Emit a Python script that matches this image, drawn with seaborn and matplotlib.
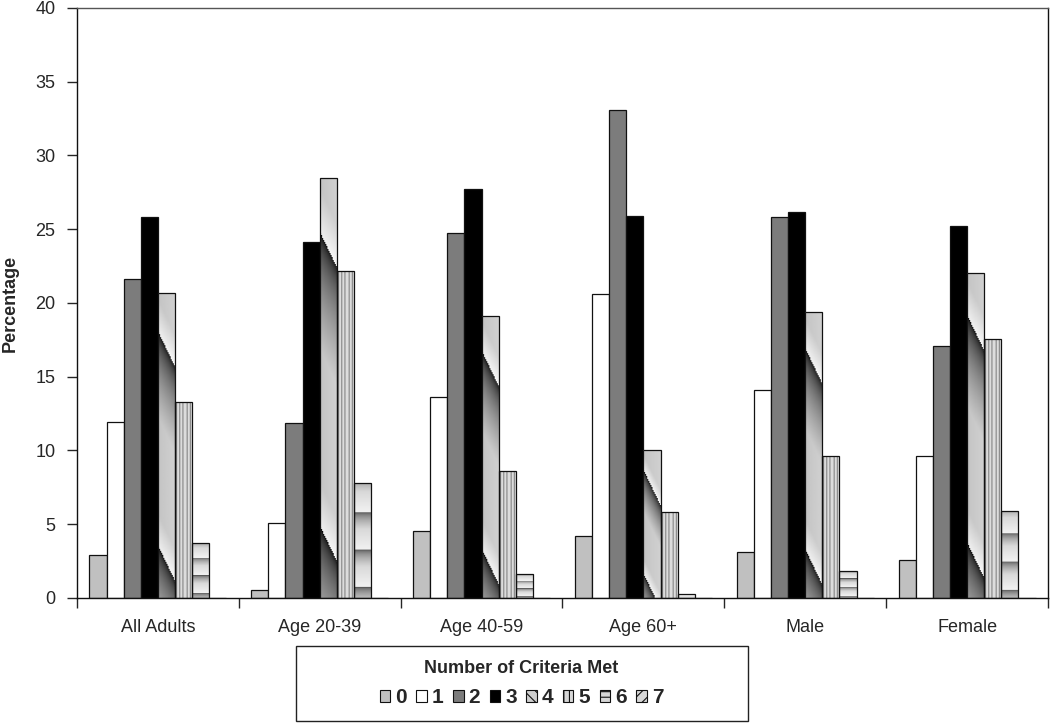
import matplotlib
matplotlib.use("Agg")
import matplotlib.pyplot as plt
import numpy as np
import pandas as pd
import seaborn as sns
from matplotlib.patches import Patch, Rectangle

groups = ["All Adults", "Age 20-39", "Age 40-59", "Age 60+", "Male", "Female"]
criteria = ["0", "1", "2", "3", "4", "5", "6", "7"]

# percentage of each group meeting n criteria
met_0 = [2.9, 0.55, 4.55, 4.2, 3.15, 2.55]
met_1 = [11.9, 5.1, 13.65, 20.6, 14.1, 9.6]
met_2 = [21.6, 11.85, 24.75, 33.1, 25.8, 17.1]
met_3 = [25.85, 24.15, 27.7, 25.9, 26.15, 25.25]
met_4 = [20.7, 28.45, 19.15, 10.0, 19.4, 22.0]
met_5 = [13.3, 22.2, 8.6, 5.8, 9.6, 17.55]
met_6 = [3.7, 7.8, 1.6, 0.3, 1.8, 5.9]
met_7 = [0, 0, 0, 0, 0, 0]

series = [met_0, met_1, met_2, met_3, met_4, met_5, met_6, met_7]
df = pd.DataFrame({
    "group": np.repeat([groups], len(criteria), axis=0).ravel(),
    "criteria": np.repeat(criteria, len(groups)),
    "pct": np.concatenate(series),
})

sns.set_style("white")
plt.rcParams["font.family"] = ["Liberation Sans", "DejaVu Sans"]
plt.rcParams["hatch.linewidth"] = 0.8

colors = ["#c0c0c0", "#ffffff", "#7c7c7c", "#000000", "#d6d6d6", "#d6d6d6", "#d6d6d6", "#d6d6d6"]

fig = plt.figure(figsize=(10.5, 7.25), dpi=100)
ax = fig.add_axes([0.0733, 0.1752, 0.9248, 0.8138])

sns.barplot(
    data=df, x="group", y="pct", hue="criteria",
    order=groups, hue_order=criteria,
    palette=colors, saturation=1,
    width=0.846, gap=0, errorbar=None,
    edgecolor="#111111", linewidth=0.9,
    legend=False, ax=ax
)

ax.set_xlim(-0.5, 5.5)
ax.set_ylim(0, 40)


def shade_bar(bar, kind):
    # fake the excel gradient fills with a small image clipped to the bar
    if bar.get_height() <= 0:
        return
    x, y = bar.get_x(), bar.get_y()
    bw, bh = bar.get_width(), bar.get_height()
    (px0, py0), (px1, py1) = ax.transData.transform([(x, y), (x + bw, y + bh)])
    w = max(int(round(px1 - px0)), 2)
    h = max(int(round(py1 - py0)), 2)
    jj, ii = np.meshgrid(np.arange(w), np.arange(h))
    if kind == "diag":
        t = ((ii - 0.13 * h - 2.2 * jj) / (0.7 * h)) % 1.0
        val = np.where(t < 0.4, 0.05 + 0.77 * np.sqrt(t / 0.4),
                       np.where(t < 0.85, 0.82, 0.82 + 0.16 * (t - 0.85) / 0.15))
        val = val - 0.05 * (1 - jj / w)
    elif kind == "vert":
        t = (jj % 3.4) / 3.4
        val = np.where(t < 0.35, 0.5, 0.86)
    else:
        t = (ii / (h / 3.1) + 0.2) % 1.0
        val = np.where(t < 0.45, 0.3 + 0.55 * np.sqrt(t / 0.45), 0.85 + 0.1 * (t - 0.45) / 0.55)
    im = ax.imshow(val, cmap="gray", vmin=0, vmax=1, origin="upper",
                   extent=(x, x + bw, y, y + bh), aspect="auto",
                   interpolation="bilinear", zorder=1.5)
    im.set_clip_path(bar)
    bar.set_facecolor("none")
    bar.set_zorder(2)


for bar in ax.containers[4]:
    shade_bar(bar, "diag")
for bar in ax.containers[5]:
    shade_bar(bar, "vert")
for bar in ax.containers[6]:
    shade_bar(bar, "horiz")
for bar in ax.containers[7]:
    bar.set_hatch("///")

ax.set_xlim(-0.5, 5.5)
ax.set_ylim(0, 40)
ax.set_yticks(np.arange(0, 41, 5))
ax.set_xticks(np.arange(len(groups)), groups)
ax.set_xticks(np.arange(-0.5, len(groups)), minor=True)
ax.tick_params(axis="x", which="major", length=0, pad=15, labelsize=13)
ax.tick_params(axis="x", which="minor", length=7, width=1, direction="out", bottom=True)
ax.tick_params(axis="y", length=7, width=1, direction="out", left=True, pad=8.5, labelsize=13)
ax.set_xlabel("")
ax.set_ylabel("Percentage", fontsize=13, fontweight="bold", labelpad=12)

for side in ["left", "bottom", "right"]:
    ax.spines[side].set_color("#111111")
    ax.spines[side].set_linewidth(1.0)
ax.spines["top"].set_color("#555555")
ax.spines["top"].set_linewidth(1.0)

# legend with its own frame underneath the plot
fills = [
    dict(facecolor=colors[0]), dict(facecolor=colors[1]), dict(facecolor=colors[2]),
    dict(facecolor=colors[3]), dict(facecolor="#cfcfcf", hatch="\\\\\\"),
    dict(facecolor="#d6d6d6", hatch="|||"), dict(facecolor="#d6d6d6", hatch="---"),
    dict(facecolor="#d6d6d6", hatch="///"),
]
handles = [Patch(edgecolor="#111111", linewidth=0.8, **f) for f in fills]
fig.legend(
    handles, criteria, loc="center", bbox_to_anchor=(0.4967, 0.057), ncol=8,
    frameon=False, title="Number of Criteria Met",
    title_fontproperties={"weight": "bold", "size": 13},
    prop={"weight": "bold", "size": 15},
    handlelength=0.5, handleheight=0.5, handletextpad=0.25, columnspacing=0.45,
    borderpad=0.2, labelspacing=0.55,
)
fig.patches.append(Rectangle((0.2819, 0.006), 0.4305, 0.103, transform=fig.transFigure,
                             fill=False, edgecolor="#222222", linewidth=1.0))

fig.savefig("out.png", dpi=100)
